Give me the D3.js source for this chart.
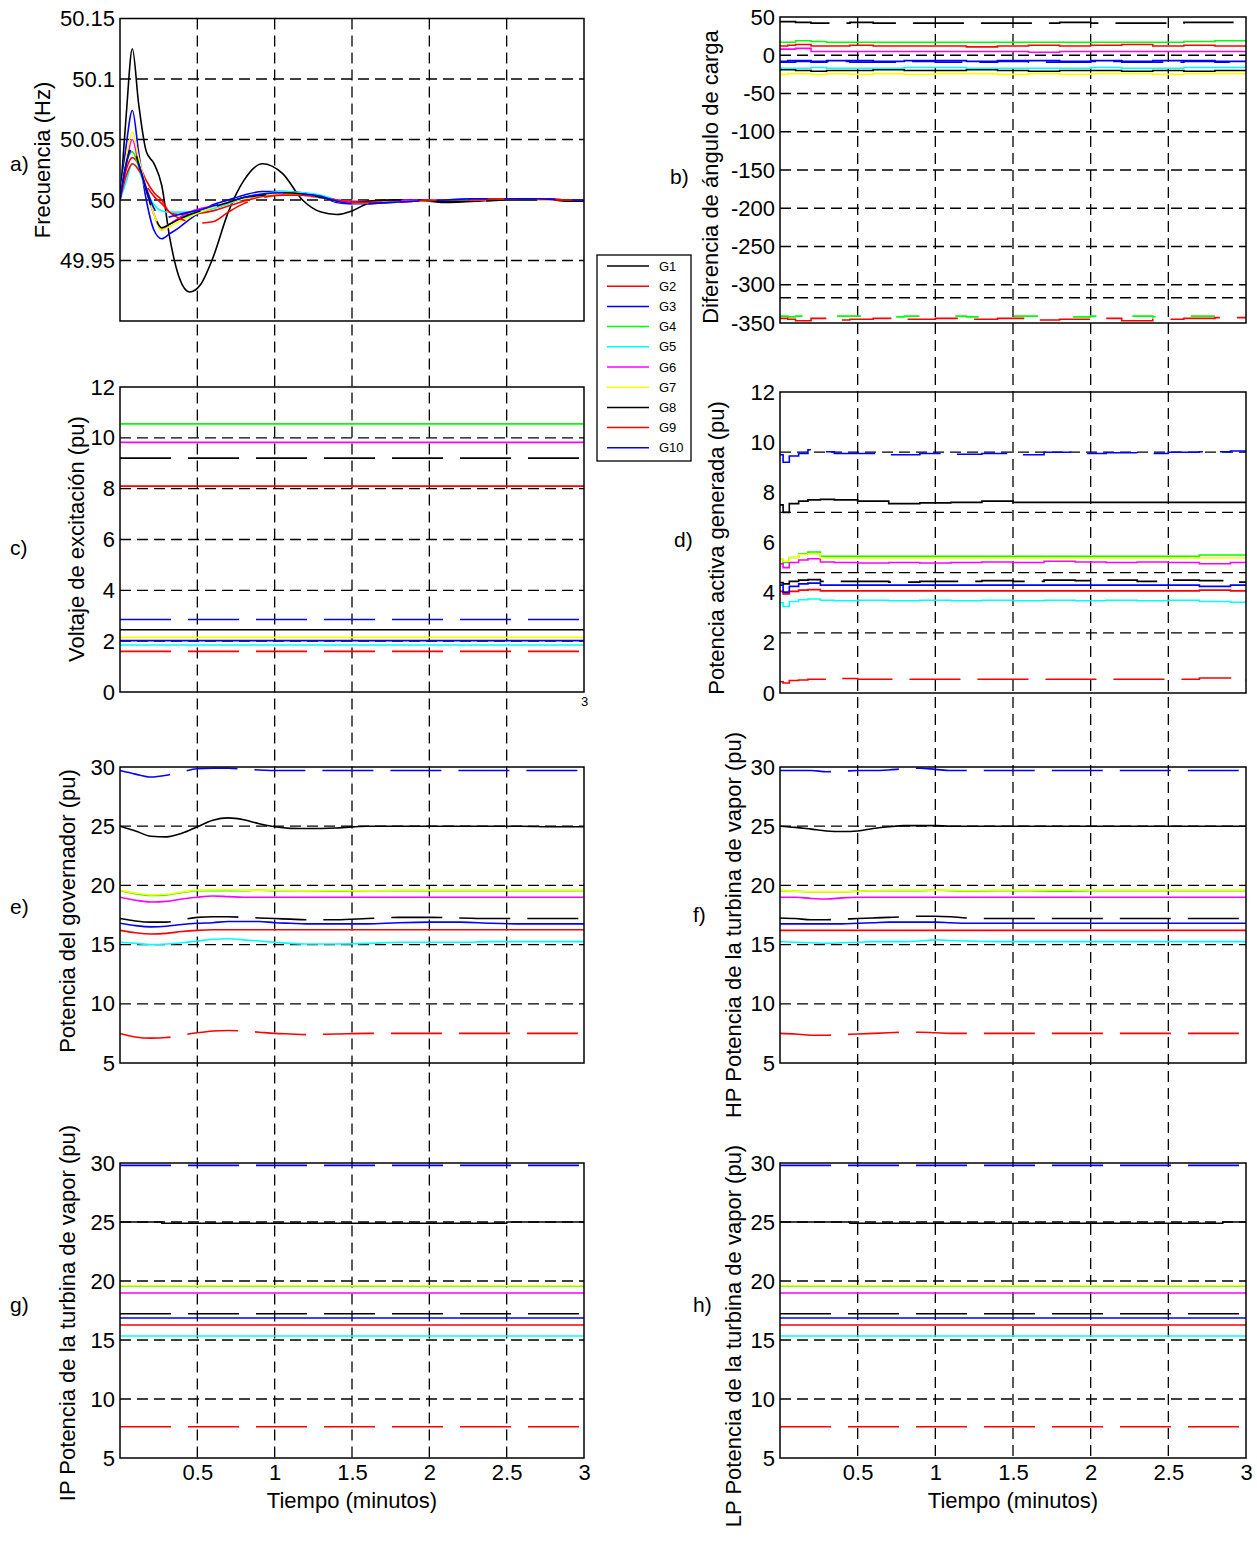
<!DOCTYPE html>
<html><head><meta charset="utf-8">
<script src="https://cdn.jsdelivr.net/npm/d3@7"></script>
<style>
body{margin:0;background:#fff}
svg text{font-family:"Liberation Sans",Arial,sans-serif;fill:#000}
</style>
</head><body>
<svg id="chart" width="1257" height="1541"></svg>
<script>
// ---------------- DATA ----------------
const genNames  = ["G1","G2","G3","G4","G5","G6","G7","G8","G9","G10"];
const genColors = ["#000000","#ff0000","#0000ff","#00ff00","#00ffff","#ff00ff","#ffff00","#000000","#ff0000","#0000ff"];
const genDashed = [false,false,false,false,false,false,false,true,true,true];

const xTickVals = [0.5,1,1.5,2,2.5,3];
const xGridVals = [0.5,1,1.5,2,2.5];

// a) Frecuencia (Hz)
const tFreq = [0,0.04,0.08,0.12,0.17,0.22,0.27,0.32,0.38,0.45,0.52,0.6,0.7,0.8,0.92,1.05,1.18,1.3,1.4,1.5,1.6,1.75,1.9,2.1,2.3,2.5,2.7,2.9,3.0];
const freqData = [
 [50.0,50.07,50.125,50.08,50.04,50.03,50.012,49.97,49.937,49.924,49.93,49.952,49.99,50.016,50.03,50.022,50.0,49.99,49.988,49.991,49.997,50.0,50.0,49.998,49.999,50.001,50.001,49.999,49.999],
 [50.0,50.025,50.035,50.03,50.016,50.006,50.0,49.99,49.988,49.988,49.989,49.991,49.995,49.999,50.003,50.005,50.004,50.002,50.0,49.999,49.998,49.999,49.999,50.0,50.0,50.001,50.001,50.0,50.0],
 [50.0,50.045,50.074,50.04,50.0,49.975,49.968,49.972,49.977,49.984,49.99,49.996,50.0,50.004,50.007,50.007,50.006,50.003,49.998,49.997,49.997,49.998,49.999,50.0,50.001,50.001,50.001,50.0,50.0],
 [50.0,50.03,50.04,50.028,50.008,49.988,49.977,49.98,49.984,49.987,49.99,49.993,49.997,50.001,50.004,50.006,50.005,50.002,49.999,49.998,49.998,49.999,49.999,50.0,50.0,50.001,50.0,50.0,50.0],
 [50.0,50.015,50.03,50.025,50.008,49.996,49.991,49.99,49.99,49.99,49.991,49.993,49.997,50.002,50.005,50.007,50.006,50.004,50.0,49.998,49.998,49.998,49.999,50.0,50.0,50.0,50.0,50.0,50.0],
 [50.0,50.03,50.05,50.03,50.008,49.988,49.975,49.98,49.985,49.99,49.993,49.995,49.998,50.002,50.004,50.005,50.004,50.002,50.0,49.999,49.999,49.999,50.0,50.0,50.0,50.0,50.0,50.0,50.0],
 [50.0,50.035,50.056,50.035,50.01,49.988,49.975,49.978,49.982,49.986,49.99,49.994,49.998,50.001,50.004,50.005,50.004,50.002,49.999,49.998,49.998,49.998,49.999,50.0,50.0,50.0,50.0,50.0,50.0],
 [50.0,50.03,50.045,50.03,50.008,49.988,49.977,49.98,49.984,49.988,49.991,49.994,49.998,50.002,50.004,50.006,50.005,50.002,49.999,49.998,49.999,50.0,50.0,49.999,49.999,50.0,50.0,50.0,49.999],
 [50.0,50.02,50.03,50.025,50.012,50.003,49.997,49.99,49.985,49.982,49.981,49.982,49.99,49.997,50.002,50.004,50.004,50.002,50.0,49.998,49.998,49.998,49.999,50.0,50.0,50.001,50.001,50.0,50.0],
 [50.0,50.03,50.042,50.03,50.01,49.993,49.985,49.986,49.988,49.99,49.992,49.995,49.998,50.002,50.005,50.006,50.005,50.003,49.999,49.997,49.997,49.998,49.999,50.0,50.001,50.001,50.001,50.0,50.0]
];
const freqTicks = [49.95,50,50.05,50.1,50.15];
const freqGrid  = [49.95,50,50.05,50.1];

// b) Diferencia de ángulo de carga
const tAngle = [0,0.05,0.1,0.2,0.3,0.45,0.6,0.8,1.0,1.2,1.4,1.6,1.8,2.0,2.2,2.4,2.6,2.8,3.0];
const angleData = [
 [-19,-19,-20,-21,-20,-20,-19,-20,-20,-19,-20,-21,-20,-20,-21,-20,-21,-20,-20],
 [12,13,14,12,12,13,12,12,12,11,12,13,12,13,14,12,13,12,12],
 [-8,-7,-7,-8,-7,-7,-8,-7,-7,-8,-7,-7,-8,-7,-8,-7,-7,-8,-8],
 [17,17,19,18,17,17,17,17,17,17,17,17,17,17,17,17,18,19,19],
 [-17,-17,-17,-16,-17,-17,-17,-16,-16,-17,-17,-17,-17,-16,-17,-17,-16,-16,-16],
 [8,8,9,5,5,5,5,5,5,5,5,4,5,5,5,5,5,5,5],
 [-25,-24,-24,-25,-24,-25,-24,-25,-24,-24,-25,-24,-25,-24,-24,-25,-24,-24,-25],
 [44,44,43,42,42,43,42,42,42,42,42,42,43,42,42,42,43,43,42],
 [-344,-345,-347,-344,-346,-345,-344,-345,-344,-345,-344,-346,-345,-344,-347,-345,-344,-343,-342],
 [-9,-9,-8,-9,-8,-9,-9,-8,-9,-9,-8,-9,-9,-8,-9,-9,-8,-9,-9]
];
const angleG4Wrap = [-341,-342,-341,-342,-341,-341,-342,-341,-341,-342,-341,-341,-342,-341,-341,-342,-341,-341,-341];
const angleTicks = [50,0,-50,-100,-150,-200,-250,-300,-350];
const angleGrid  = [0,-50,-100,-150,-200,-250,-300,-317];

// c) Voltaje de excitación (pu)
const tExc = [0,3];
const excData = [[2.45,2.45],[8.1,8.1],[2.02,2.02],[10.55,10.55],[1.85,1.85],[9.82,9.82],[2.15,2.15],[9.2,9.2],[1.6,1.6],[2.85,2.85]];
const excTicks = [0,2,4,6,8,10,12];
const excGrid  = [2,4,6,8,10];

// d) Potencia activa generada (pu)
const tAct = [0,0.02,0.06,0.12,0.18,0.26,0.35,0.5,0.7,0.9,1.1,1.3,1.5,1.7,1.9,2.1,2.3,2.5,2.7,2.9,3.0];
const actData = [
 [7.5,7.2,7.55,7.65,7.7,7.72,7.7,7.65,7.55,7.58,7.6,7.65,7.6,7.6,7.6,7.6,7.6,7.6,7.6,7.6,7.6],
 [4.05,3.95,4.05,4.1,4.12,4.07,4.07,4.07,4.07,4.07,4.07,4.07,4.07,4.07,4.07,4.07,4.07,4.07,4.1,4.07,4.07],
 [4.3,4.02,4.25,4.35,4.38,4.3,4.3,4.3,4.3,4.3,4.3,4.3,4.3,4.3,4.3,4.3,4.3,4.3,4.25,4.3,4.3],
 [5.35,5.2,5.4,5.55,5.62,5.45,5.45,5.45,5.45,5.45,5.45,5.45,5.45,5.45,5.45,5.45,5.45,5.45,5.5,5.5,5.45],
 [3.6,3.45,3.65,3.72,3.75,3.7,3.68,3.7,3.68,3.7,3.68,3.7,3.68,3.7,3.68,3.7,3.68,3.7,3.65,3.62,3.7],
 [5.15,5.0,5.2,5.3,5.35,5.22,5.2,5.18,5.2,5.18,5.2,5.22,5.2,5.25,5.22,5.2,5.22,5.2,5.15,5.2,5.2],
 [5.35,5.25,5.4,5.52,5.55,5.38,5.38,5.38,5.38,5.38,5.38,5.38,5.38,5.38,5.38,5.38,5.38,5.38,5.38,5.38,5.38],
 [4.4,4.35,4.45,4.5,4.52,4.45,4.45,4.45,4.42,4.45,4.45,4.48,4.45,4.5,4.48,4.5,4.45,4.5,4.48,4.42,4.45],
 [0.45,0.4,0.5,0.52,0.55,0.55,0.58,0.55,0.55,0.55,0.55,0.55,0.55,0.55,0.55,0.55,0.55,0.55,0.6,0.5,0.55],
 [9.5,9.2,9.45,9.55,9.7,9.62,9.55,9.55,9.5,9.55,9.52,9.55,9.5,9.6,9.55,9.58,9.55,9.6,9.62,9.65,9.6]
];
const actTicks = [0,2,4,6,8,10,12];
const actGrid  = [2.4,4.8,7.2,9.6];

// e) Potencia del governador (pu)
const tGov = [0,0.1,0.2,0.3,0.4,0.5,0.6,0.7,0.8,0.9,1.0,1.1,1.2,1.4,1.6,1.8,2.0,2.2,2.4,2.6,2.8,3.0];
const govData = [
 [25,24.6,24.15,24.1,24.4,24.95,25.5,25.7,25.55,25.2,24.95,24.82,24.8,24.85,25.0,25.0,25.0,25.0,25.0,25.0,24.95,24.95],
 [16.2,16.0,15.9,15.95,16.1,16.2,16.25,16.25,16.25,16.25,16.25,16.25,16.25,16.25,16.25,16.25,16.25,16.25,16.25,16.25,16.25,16.25],
 [16.8,16.6,16.5,16.55,16.7,16.8,16.85,16.95,16.95,16.95,16.85,16.8,16.75,16.75,16.75,16.85,16.9,16.9,16.8,16.75,16.75,16.75],
 [19.55,19.3,19.15,19.2,19.4,19.55,19.55,19.55,19.55,19.6,19.55,19.55,19.55,19.5,19.55,19.55,19.55,19.55,19.55,19.55,19.55,19.55],
 [15.2,15.1,15.0,15.05,15.15,15.3,15.45,15.5,15.4,15.3,15.2,15.1,15.05,15.05,15.1,15.2,15.2,15.2,15.25,15.25,15.25,15.25],
 [19.0,18.75,18.6,18.65,18.85,19.0,19.1,19.05,19.0,19.0,19.0,19.0,19.0,19.0,19.0,19.0,19.0,19.0,19.0,19.0,19.0,19.0],
 [19.6,19.35,19.2,19.25,19.45,19.6,19.62,19.62,19.6,19.6,19.6,19.58,19.55,19.55,19.55,19.6,19.6,19.6,19.6,19.6,19.6,19.6],
 [17.2,17.0,16.9,16.9,17.1,17.3,17.35,17.35,17.3,17.25,17.2,17.15,17.1,17.1,17.2,17.3,17.3,17.25,17.2,17.2,17.2,17.2],
 [7.5,7.2,7.1,7.15,7.35,7.55,7.7,7.75,7.7,7.6,7.5,7.45,7.4,7.45,7.5,7.5,7.5,7.5,7.5,7.5,7.5,7.5],
 [29.7,29.4,29.15,29.3,29.6,29.85,29.9,29.9,29.8,29.75,29.7,29.7,29.7,29.7,29.7,29.7,29.7,29.7,29.7,29.7,29.7,29.7]
];

// f) HP Potencia de la turbina de vapor (pu)
const hpData = [
 [25,24.9,24.75,24.6,24.55,24.6,24.8,24.95,25.05,25.05,25.05,25.0,25.0,25.0,25.0,25.0,25.0,25.0,25.0,25.0,25.0,25.0],
 [16.2,16.2,16.2,16.2,16.2,16.2,16.2,16.2,16.2,16.2,16.2,16.2,16.2,16.2,16.2,16.2,16.2,16.2,16.2,16.2,16.2,16.2],
 [16.75,16.75,16.75,16.75,16.75,16.8,16.85,16.9,16.9,16.9,16.9,16.85,16.8,16.8,16.8,16.8,16.8,16.8,16.8,16.8,16.8,16.8],
 [19.55,19.5,19.45,19.45,19.45,19.5,19.55,19.55,19.55,19.55,19.6,19.55,19.5,19.55,19.55,19.5,19.55,19.55,19.55,19.55,19.55,19.55],
 [15.25,15.2,15.15,15.1,15.15,15.2,15.25,15.25,15.25,15.3,15.4,15.35,15.3,15.25,15.25,15.25,15.25,15.25,15.25,15.25,15.25,15.25],
 [19.0,19.0,18.9,18.85,18.95,19.0,19.0,19.0,19.0,19.0,19.0,19.0,19.0,19.0,19.0,19.0,19.0,19.0,19.0,19.0,19.0,19.0],
 [19.6,19.5,19.45,19.45,19.45,19.5,19.55,19.6,19.6,19.6,19.6,19.6,19.55,19.6,19.6,19.6,19.6,19.6,19.6,19.6,19.6,19.6],
 [17.25,17.2,17.1,17.1,17.15,17.2,17.25,17.3,17.35,17.4,17.4,17.35,17.25,17.2,17.2,17.2,17.2,17.2,17.2,17.2,17.2,17.2],
 [7.5,7.45,7.35,7.35,7.4,7.45,7.5,7.55,7.6,7.6,7.55,7.5,7.5,7.5,7.5,7.5,7.5,7.5,7.5,7.5,7.5,7.5],
 [29.7,29.7,29.7,29.6,29.65,29.7,29.7,29.75,29.85,29.9,29.8,29.7,29.7,29.7,29.7,29.7,29.7,29.7,29.7,29.7,29.7,29.7]
];
const powTicks = [5,10,15,20,25,30];
const powGrid  = [10,15,20,25];

// g) IP, h) LP Potencia de la turbina de vapor (pu)
const tIP = [0,0.27,2.5,3.0];
const ipData = [[25,24.9,25,25],[16.27,16.27,16.27,16.27],[16.86,16.86,16.86,16.86],[19.55,19.55,19.55,19.55],[15.34,15.34,15.34,15.34],[18.98,18.98,18.98,18.98],[19.6,19.6,19.6,19.6],[17.23,17.23,17.23,17.23],[7.65,7.65,7.65,7.65],[29.8,29.8,29.8,29.8]];
const tLP = [0,0.45,2.85,3.0];
const lpData = [[25,24.9,25,25],[16.27,16.27,16.27,16.27],[16.86,16.86,16.86,16.86],[19.55,19.55,19.55,19.55],[15.34,15.34,15.34,15.34],[18.98,18.98,18.98,18.98],[19.6,19.6,19.6,19.6],[17.23,17.23,17.23,17.23],[7.65,7.65,7.65,7.65],[29.8,29.8,29.8,29.8]];

// ---------------- LAYOUT ----------------
const colRange = [[120,584],[780,1246]];
const fmtNum = d => String(+d.toFixed(2));
const panels = [
 {key:"a",col:0,top:18.5,bot:321,dom:[49.9,50.15],ticks:freqTicks,grid:freqGrid,t:tFreq,v:freqData,curve:d3.curveMonotoneX,
  ylabel:"Frecuencia (Hz)",ylx:50,yly:160,letter:"a)",lx:10,ly:171},
 {key:"b",col:1,top:17,bot:323,dom:[-350,50],ticks:angleTicks,grid:angleGrid,t:tAngle,v:angleData,curve:d3.curveStepAfter,
  ylabel:"Diferencia de ángulo de carga",ylx:718,yly:177,letter:"b)",lx:670,ly:184,extra:angleG4Wrap},
 {key:"c",col:0,top:387,bot:692,dom:[0,12],ticks:excTicks,grid:excGrid,t:tExc,v:excData,curve:d3.curveLinear,
  ylabel:"Voltaje de excitación (pu)",ylx:84,yly:539,letter:"c)",lx:10,ly:555,small3:true},
 {key:"d",col:1,top:392,bot:693,dom:[0,12],ticks:actTicks,grid:actGrid,t:tAct,v:actData,curve:d3.curveStepAfter,
  ylabel:"Potencia activa generada (pu)",ylx:724,yly:548,letter:"d)",lx:674,ly:547},
 {key:"e",col:0,top:767,bot:1063,dom:[5,30],ticks:powTicks,grid:powGrid,t:tGov,v:govData,curve:d3.curveMonotoneX,
  ylabel:"Potencia del governador (pu)",ylx:75,yly:911,letter:"e)",lx:10,ly:914},
 {key:"f",col:1,top:767,bot:1063,dom:[5,30],ticks:powTicks,grid:powGrid,t:tGov,v:hpData,curve:d3.curveMonotoneX,
  ylabel:"HP Potencia de la turbina de vapor (pu)",ylx:741,yly:925,letter:"f)",lx:693,ly:922},
 {key:"g",col:0,top:1163,bot:1458,dom:[5,30],ticks:powTicks,grid:powGrid,t:tIP,v:ipData,curve:d3.curveStepAfter,
  ylabel:"IP Potencia de la turbina de vapor (pu)",ylx:75,yly:1313,letter:"g)",lx:10,ly:1312,xaxis:true},
 {key:"h",col:1,top:1163,bot:1458,dom:[5,30],ticks:powTicks,grid:powGrid,t:tLP,v:lpData,curve:d3.curveStepAfter,
  ylabel:"LP Potencia de la turbina de vapor (pu)",ylx:741,yly:1336,letter:"h)",lx:693,ly:1312,xaxis:true}
];

const svg = d3.select("#chart");
svg.append("rect").attr("width",1257).attr("height",1541).attr("fill","#fff");
const defs = svg.append("defs");
const GRID_DASH = "11,6";
const SERIES_DASH = "51,17";

// long vertical grid lines, one per column
[0,1].forEach(col => {
  const ps = panels.filter(p => p.col === col);
  const x = d3.scaleLinear().domain([0,3]).range(colRange[col]);
  const yTop = d3.min(ps, p => p.top), yBot = d3.max(ps, p => p.bot);
  svg.append("g").selectAll("line").data(xGridVals).join("line")
    .attr("x1", d => x(d)).attr("x2", d => x(d))
    .attr("y1", yTop).attr("y2", yBot)
    .attr("stroke","#000").attr("stroke-width",1.3).attr("stroke-dasharray",GRID_DASH);
});

panels.forEach(p => {
  const x = d3.scaleLinear().domain([0,3]).range(colRange[p.col]);
  const y = d3.scaleLinear().domain(p.dom).range([p.bot,p.top]);
  const g = svg.append("g");
  defs.append("clipPath").attr("id","clip-"+p.key).append("rect")
    .attr("x",x(0)).attr("y",p.top).attr("width",x(3)-x(0)).attr("height",p.bot-p.top);

  // horizontal grid
  g.append("g").selectAll("line").data(p.grid).join("line")
    .attr("x1",x(0)).attr("x2",x(3)).attr("y1",d=>y(d)).attr("y2",d=>y(d))
    .attr("stroke","#000").attr("stroke-width",1.3).attr("stroke-dasharray",GRID_DASH);

  const lines = g.append("g").attr("clip-path","url(#clip-"+p.key+")");
  const lineGen = d3.line().x((d,i)=>x(p.t[i])).y(d=>y(d)).curve(p.curve);
  if (p.extra) {
    lines.append("path").attr("d",lineGen(p.extra)).attr("fill","none")
      .attr("stroke",genColors[3]).attr("stroke-width",1.6).attr("stroke-dasharray","24,36");
  }
  p.v.forEach((vals,i) => {
    lines.append("path").attr("d",lineGen(vals)).attr("fill","none")
      .attr("stroke",genColors[i]).attr("stroke-width",1.6)
      .attr("stroke-dasharray",genDashed[i] ? SERIES_DASH : null);
  });

  // border
  g.append("rect").attr("x",x(0)).attr("y",p.top).attr("width",x(3)-x(0)).attr("height",p.bot-p.top)
    .attr("fill","none").attr("stroke","#000").attr("stroke-width",1.5);

  // y axis
  const ya = g.append("g").attr("transform",`translate(${x(0)},0)`)
    .call(d3.axisLeft(y).tickValues(p.ticks).tickSize(0).tickPadding(5).tickFormat(fmtNum));
  ya.select(".domain").remove();
  ya.selectAll("text").attr("font-size",22).attr("font-family","Liberation Sans, Arial, sans-serif").attr("fill","#000");

  if (p.xaxis) {
    const xa = g.append("g").attr("transform",`translate(0,${p.bot})`)
      .call(d3.axisBottom(x).tickValues(xTickVals).tickSize(0).tickPadding(6).tickFormat(fmtNum));
    xa.select(".domain").remove();
    xa.selectAll("text").attr("font-size",22).attr("font-family","Liberation Sans, Arial, sans-serif").attr("fill","#000");
    g.append("text").attr("x",(x(0)+x(3))/2).attr("y",p.bot+50).attr("text-anchor","middle")
      .attr("font-size",22).text("Tiempo (minutos)");
  }
  if (p.small3) {
    const xa = g.append("g").attr("transform",`translate(0,${p.bot})`)
      .call(d3.axisBottom(x).tickValues([3]).tickSize(0).tickPadding(5).tickFormat(fmtNum));
    xa.select(".domain").remove();
    xa.selectAll("text").attr("font-size",13).attr("fill","#000");
  }

  // y label
  g.append("text").attr("transform",`translate(${p.ylx},${p.yly}) rotate(-90)`)
    .attr("text-anchor","middle").attr("font-size",22).text(p.ylabel);
  g.append("text").attr("x",p.lx).attr("y",p.ly).attr("font-size",21).text(p.letter);
});

// legend
const leg = svg.append("g").attr("transform","translate(597,255)");
leg.append("rect").attr("width",94).attr("height",206).attr("fill","#fff").attr("stroke","#000").attr("stroke-width",1.3);
const items = leg.selectAll("g.it").data(genNames).join("g").attr("class","it")
  .attr("transform",(d,i)=>`translate(0,${11 + i*20.2})`);
items.append("line").attr("x1",10).attr("x2",52).attr("y1",0).attr("y2",0)
  .attr("stroke",(d,i)=>genColors[i]).attr("stroke-width",1.5);
items.append("text").attr("x",62).attr("y",4.5).attr("font-size",13).text(d=>d);
</script>
</body></html>
